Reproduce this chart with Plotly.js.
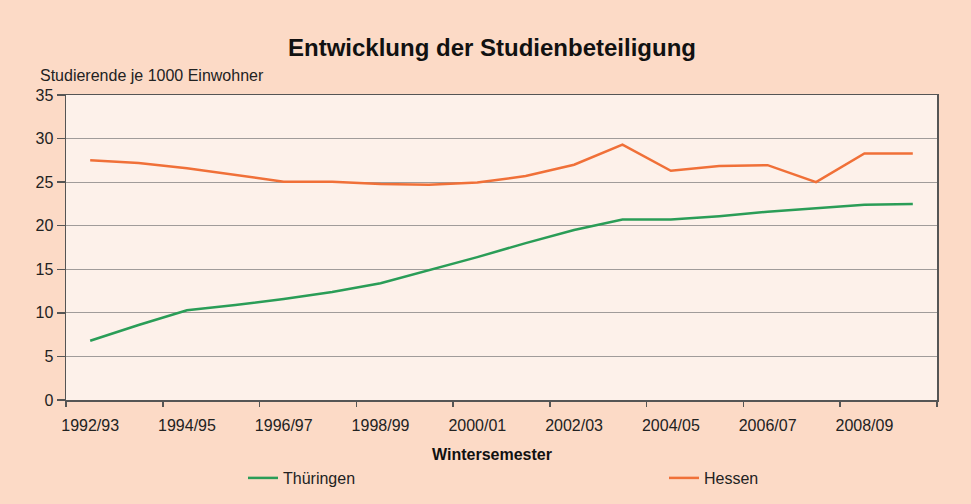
<!DOCTYPE html>
<html>
<head>
<meta charset="utf-8">
<script src="https://cdn.plot.ly/plotly-3.0.1.min.js"></script>
<style>html,body{margin:0;padding:0;background:#fcdac6;}#chart{width:971px;height:504px;}</style>
</head>
<body>
<div id="chart"></div>
<script>
const semesters = ["1992/93","1993/94","1994/95","1995/96","1996/97","1997/98","1998/99","1999/00","2000/01","2001/02","2002/03","2003/04","2004/05","2005/06","2006/07","2007/08","2008/09","2009/10"];
const thueringen = [6.8, 8.6, 10.3, 10.9, 11.6, 12.4, 13.4, 14.9, 16.4, 18.0, 19.5, 20.7, 20.7, 21.1, 21.6, 22.0, 22.4, 22.5];
const hessen = [27.5, 27.2, 26.6, 25.8, 25.05, 25.05, 24.8, 24.7, 24.95, 25.7, 27.0, 29.3, 26.3, 26.85, 26.95, 25.0, 28.3, 28.3];
const labelTicks = ["1992/93","1994/95","1996/97","1998/99","2000/01","2002/03","2004/05","2006/07","2008/09"];
const boundaryTicks = [-0.5, 1.5, 3.5, 5.5, 7.5, 9.5, 11.5, 13.5, 15.5, 17.5];
const yTicks = [0, 5, 10, 15, 20, 25, 30, 35];

const font = "Liberation Sans, Arial, sans-serif";
const traces = [
  {x: semesters, y: thueringen, name: "Thüringen", type: "scatter", mode: "lines",
   line: {color: "#2a9d57", width: 2.5}, legend: "legend"},
  {x: semesters, y: hessen, name: "Hessen", type: "scatter", mode: "lines",
   line: {color: "#f07038", width: 2.5}, legend: "legend2"},
  {x: [], y: [], xaxis: "x2", showlegend: false, hoverinfo: "skip", type: "scatter", mode: "lines"}
];
const legendBase = {orientation: "h", xanchor: "left", yanchor: "middle",
  xref: "container", yref: "container", y: (504 - 478) / 504,
  bgcolor: "rgba(0,0,0,0)", itemwidth: 30, font: {family: font, size: 16, color: "#222"}};
const layout = {
  width: 971, height: 504,
  paper_bgcolor: "#fcdac6",
  plot_bgcolor: "#fdf1ea",
  margin: {l: 66, r: 34, t: 95, b: 104, autoexpand: false},
  font: {family: font, size: 16, color: "#222"},
  title: {text: "<b>Entwicklung der Studienbeteiligung</b>", font: {family: font, size: 24, color: "#111"},
          xref: "container", x: 0.5067, xanchor: "center", yref: "container", y: 0.905, yanchor: "middle"},
  xaxis: {type: "category", categoryorder: "array", categoryarray: semesters,
          range: [-0.5, 17.5], tickvals: labelTicks, ticktext: labelTicks,
          ticks: "outside", ticklen: 10, tickcolor: "rgba(0,0,0,0)",
          showline: true, linecolor: "#555", linewidth: 1.5, mirror: true,
          showgrid: false, zeroline: false, automargin: false,
          tickfont: {family: font, size: 16, color: "#222"}},
  xaxis2: {overlaying: "x", side: "bottom", range: [-0.5, 17.5], tickvals: boundaryTicks,
           showticklabels: false, ticks: "outside", ticklen: 6, tickcolor: "#555", tickwidth: 1.5,
           showline: false, showgrid: false, zeroline: false},
  yaxis: {range: [0, 35], tickvals: yTicks, ticktext: yTicks.map(String),
          ticks: "outside", ticklen: 8, tickcolor: "#555", tickwidth: 1.5,
          showline: true, linecolor: "#555", linewidth: 1.5, mirror: true,
          showgrid: true, gridcolor: "#a09c9a", gridwidth: 1, zeroline: false, automargin: false,
          tickfont: {family: font, size: 16, color: "#222"}},
  legend: Object.assign({}, legendBase, {x: 243 / 971}),
  legend2: Object.assign({}, legendBase, {x: 664 / 971}),
  annotations: [
    {text: "Studierende je 1000 Einwohner", xref: "paper", yref: "paper", x: 0, y: 1,
     xshift: -28, yshift: 9, xanchor: "left", yanchor: "bottom", showarrow: false,
     font: {family: font, size: 16, color: "#222"}},
    {text: "<b>Wintersemester</b>", xref: "paper", yref: "paper", x: (492 - 66) / 871, y: -0.18,
     xanchor: "center", yanchor: "middle", showarrow: false,
     font: {family: font, size: 16, color: "#111"}}
  ],
  showlegend: true
};
Plotly.newPlot("chart", traces, layout, {displayModeBar: false, staticPlot: true});
</script>
</body>
</html>
